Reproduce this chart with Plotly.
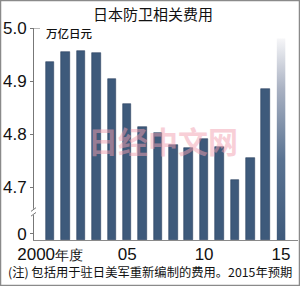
import plotly.graph_objects as go

# Data (trillion yen), fiscal years 2000-2015 (2015 = projected)
years = list(range(2000, 2015))
values = [4.936, 4.955, 4.956, 4.953, 4.903, 4.856, 4.814, 4.801,
          4.780, 4.774, 4.790, 4.775, 4.714, 4.754, 4.885]
proj_year = 2015
proj_value = 4.98

x_tickvals = [2000, 2005, 2010, 2015]
x_ticktext = ["2000<span style='font-size:13.5px'>年度</span>", "05", "10", "15"]
y_tickvals = [4.612, 4.7, 4.8, 4.9, 5.0]
y_ticktext = ["0", "4.7", "4.8", "4.9", "5.0"]

AXIS_BASE = 4.6   # display position of the bar base after axis break
BAR_W = 0.55
BAR_COLOR = "#3e5a7b"
NUM_FONT = "Liberation Sans Narrow, Arial Narrow, Liberation Sans, sans-serif"
CJK_FONT = "Noto Sans CJK SC, sans-serif"

fig = go.Figure()
fig.add_trace(go.Bar(
    x=years, y=[v - AXIS_BASE for v in values], base=AXIS_BASE,
    width=BAR_W, marker=dict(color=BAR_COLOR, line=dict(color="#2c4260", width=0.6)),
    hoverinfo="skip"))

# projected bar with vertical gradient
hx = [proj_year - BAR_W / 2, proj_year + BAR_W / 2, proj_year + BAR_W / 2, proj_year - BAR_W / 2, proj_year - BAR_W / 2]
hy = [AXIS_BASE, AXIS_BASE, proj_value, proj_value, AXIS_BASE]
fig.add_trace(go.Scatter(
    x=hx, y=hy, mode="lines", line=dict(width=0), fill="toself",
    fillgradient=dict(type="vertical", start=AXIS_BASE, stop=proj_value,
                      colorscale=[[0, BAR_COLOR], [0.4, "#5a7392"], [0.75, "#a9b1c2"], [1, "#f6f6f8"]]),
    hoverinfo="skip"))

L, R, T, B = 34, 2, 28, 46
W, H = 300, 286
pw, ph = W - L - R, H - T - B

def px(xp):
    return (xp - L) / pw

def py(yp):
    return (H - B - yp) / ph

shapes = [
    # outer border
    dict(type="rect", xref="paper", yref="paper", x0=px(0.5), x1=px(299.5), y0=py(285.5), y1=py(0.5),
         line=dict(color="#8a8a8a", width=1.5), layer="above"),
    # cap at top of y axis
    dict(type="line", xref="paper", yref="y", x0=0, x1=px(L + 6), y0=5.0, y1=5.0,
         line=dict(color="#777", width=1)),
    # axis break
    dict(type="rect", xref="paper", yref="y", x0=px(L - 4), x1=px(L + 3), y0=4.647, y1=4.659,
         fillcolor="white", line=dict(width=0), layer="above"),
    dict(type="line", xref="paper", yref="y", x0=px(L - 3), x1=px(L + 2), y0=4.645, y1=4.652,
         line=dict(color="#777", width=1), layer="above"),
    dict(type="line", xref="paper", yref="y", x0=px(L - 3), x1=px(L + 2), y0=4.654, y1=4.661,
         line=dict(color="#777", width=1), layer="above"),
]

annotations = [
    dict(text="日本防卫相关费用", xref="paper", yref="paper", x=px(153), y=py(14),
         xanchor="center", yanchor="middle",
         showarrow=False, font=dict(family=CJK_FONT, size=15, color="#111")),
    dict(text="万亿日元", xref="paper", yref="paper", x=px(44), y=py(33),
         xanchor="left", yanchor="middle",
         showarrow=False, font=dict(family=CJK_FONT, size=11.5, color="#111", weight=500)),
    dict(text="(注) 包括用于驻日美军重新编制的费用。2015年预期", xref="paper", yref="paper",
         x=px(150), y=py(272), xanchor="center", yanchor="middle",
         showarrow=False, font=dict(family=CJK_FONT, size=12.3, color="#111")),
    dict(text="日经中文网", xref="paper", yref="paper", x=px(163), y=py(140),
         xanchor="center", yanchor="middle",
         showarrow=False, opacity=0.5, font=dict(family=CJK_FONT, size=30, color="#f2a0b0", weight="bold")),
]

fig.update_layout(
    width=W, height=H, margin=dict(l=L, r=R, t=T, b=B),
    paper_bgcolor="white", plot_bgcolor="white", showlegend=False,
    bargap=0, shapes=shapes, annotations=annotations,
    xaxis=dict(range=[1998.95, 2016.1], tickvals=x_tickvals, ticktext=x_ticktext,
               showgrid=False, zeroline=False, showline=True, linecolor="#8a8a8a", linewidth=1,
               ticks="", ticklabelstandoff=-1,
               tickfont=dict(family=NUM_FONT, size=17, color="#111")),
    yaxis=dict(range=[AXIS_BASE, 5.0], tickvals=y_tickvals, ticktext=y_ticktext,
               showgrid=False, zeroline=False, showline=True, linecolor="#777", linewidth=1,
               ticks="outside", ticklen=3, tickcolor="#777",
               tickfont=dict(family=NUM_FONT, size=17, color="#111")),
)

fig.write_html("out.html")
